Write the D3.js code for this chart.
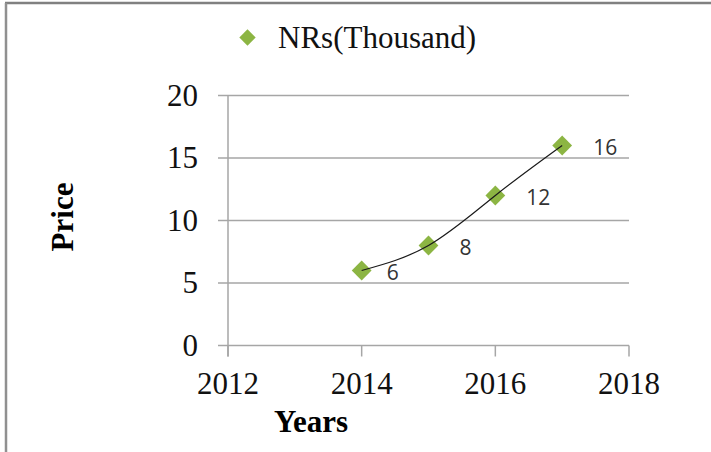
<!DOCTYPE html>
<html>
<head>
<meta charset="utf-8">
<script src="https://cdnjs.cloudflare.com/ajax/libs/d3/7.8.5/d3.min.js"></script>
<style>
  body { margin: 0; background: #fff; }
</style>
</head>
<body>
<div id="chart"></div>
<script>
var years = [2014, 2015, 2016, 2017];
var prices = [6, 8, 12, 16];
var x_ticks = [2012, 2014, 2016, 2018];
var y_ticks = [0, 5, 10, 15, 20];
var series_name = "NRs(Thousand)";

var width = 711;
var height = 452;
var green = "#8cb543";
var grid_color = "#a6a6a6";
var serif = "'Liberation Serif', 'Times New Roman', serif";

var svg = d3.select("#chart").append("svg")
    .attr("width", width)
    .attr("height", height);

svg.append("rect")
    .attr("width", width)
    .attr("height", height)
    .attr("fill", "#fff");

// frame (top + left edge only visible)
svg.append("line")
    .attr("x1", 5).attr("x2", width).attr("y1", 3).attr("y2", 3)
    .attr("stroke", "#808080").attr("stroke-width", 2.5);
svg.append("line")
    .attr("x1", 6).attr("x2", 6).attr("y1", 3).attr("y2", height)
    .attr("stroke", "#909090").attr("stroke-width", 2.5);

var x = d3.scaleLinear().domain([2012, 2018]).range([228, 629]);
var y = d3.scaleLinear().domain([0, 20]).range([345.5, 95.5]);

// horizontal grid lines
svg.append("g")
    .selectAll("line")
    .data(y_ticks)
    .join("line")
    .attr("x1", x(2012) - 10)
    .attr("x2", x(2018))
    .attr("y1", function (d) { return y(d); })
    .attr("y2", function (d) { return y(d); })
    .attr("stroke", grid_color)
    .attr("stroke-width", 1.5);

// y axis line
svg.append("line")
    .attr("x1", x(2012)).attr("x2", x(2012))
    .attr("y1", y(20)).attr("y2", y(0) + 11)
    .attr("stroke", grid_color).attr("stroke-width", 1.5);

// x ticks
svg.append("g")
    .selectAll("line")
    .data(x_ticks)
    .join("line")
    .attr("x1", function (d) { return x(d); })
    .attr("x2", function (d) { return x(d); })
    .attr("y1", y(0))
    .attr("y2", y(0) + 11)
    .attr("stroke", grid_color)
    .attr("stroke-width", 1.5);

// y tick labels
svg.append("g")
    .selectAll("text")
    .data(y_ticks)
    .join("text")
    .attr("x", 198)
    .attr("y", function (d) { return y(d) + 10; })
    .attr("text-anchor", "end")
    .attr("font-family", serif)
    .attr("font-size", 31)
    .attr("fill", "#111")
    .text(function (d) { return d; });

// x tick labels
svg.append("g")
    .selectAll("text")
    .data(x_ticks)
    .join("text")
    .attr("x", function (d) { return x(d); })
    .attr("y", 394)
    .attr("text-anchor", "middle")
    .attr("font-family", serif)
    .attr("font-size", 31)
    .attr("fill", "#111")
    .text(function (d) { return d; });

// axis titles
svg.append("text")
    .attr("x", 311)
    .attr("y", 432)
    .attr("text-anchor", "middle")
    .attr("font-family", serif)
    .attr("font-weight", "bold")
    .attr("font-size", 31)
    .attr("fill", "#000")
    .text("Years");

svg.append("text")
    .attr("transform", "translate(73,217) rotate(-90)")
    .attr("text-anchor", "middle")
    .attr("font-family", serif)
    .attr("font-weight", "bold")
    .attr("font-size", 31)
    .attr("fill", "#000")
    .text("Price");

// smoothed line
var pts = years.map(function (d, i) { return [d, prices[i]]; });
var line = d3.line()
    .x(function (d) { return x(d[0]); })
    .y(function (d) { return y(d[1]); })
    .curve(d3.curveNatural);

// diamond markers
var diamond = d3.symbol().type(d3.symbolDiamond2).size(250);
svg.append("g")
    .selectAll("path")
    .data(pts)
    .join("path")
    .attr("transform", function (d) { return "translate(" + x(d[0]) + "," + y(d[1]) + ")"; })
    .attr("d", diamond)
    .attr("fill", green);

// line sits on top of the markers
svg.append("path")
    .datum(pts)
    .attr("d", line)
    .attr("fill", "none")
    .attr("stroke", "#1a1a1a")
    .attr("stroke-width", 1.2);

// data labels
svg.append("g")
    .selectAll("text")
    .data(pts)
    .join("text")
    .attr("x", function (d, i) { return x(d[0]) + (i == 0 ? 25 : 31); })
    .attr("y", function (d) { return y(d[1]) + 9; })
    .attr("font-family", "'Open Sans', 'Liberation Sans', sans-serif")
    .attr("font-size", 21)
    .attr("fill", "#333")
    .text(function (d) { return d[1]; });

// legend
svg.append("path")
    .attr("transform", "translate(247.5,37.5)")
    .attr("d", d3.symbol().type(d3.symbolDiamond2).size(170))
    .attr("fill", green);

svg.append("text")
    .attr("x", 278)
    .attr("y", 48)
    .attr("font-family", serif)
    .attr("font-size", 31)
    .attr("fill", "#111")
    .text(series_name);
</script>
</body>
</html>
